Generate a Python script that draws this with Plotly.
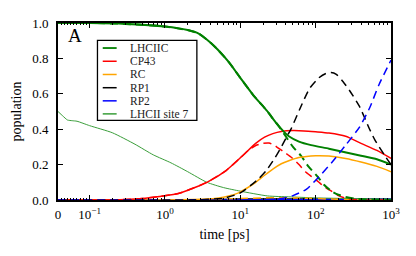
import numpy as np
import plotly.graph_objects as go

# ---------------- data (time in ps, population) ----------------
t_lhc = [0, 0.1, 0.3, 1, 2, 2.8, 4, 5, 7, 10, 15, 20, 23, 27, 32, 38, 44, 60, 87, 150, 245, 400, 650, 1000]
lhc_solid = [1.0, 1.0, 0.995, 0.98, 0.96, 0.94, 0.89, 0.85, 0.78, 0.69, 0.59, 0.53, 0.50, 0.46, 0.42,
             0.385, 0.36, 0.33, 0.31, 0.29, 0.27, 0.25, 0.23, 0.20]
t_lhc_d = [0, 0.1, 0.3, 1, 2, 2.8, 4, 5, 7, 10, 15, 20, 23, 27, 32, 40, 50, 64, 80, 107, 130, 162, 200, 245, 330, 500, 1000]
lhc_dash = [1.0, 1.0, 0.995, 0.98, 0.96, 0.94, 0.89, 0.85, 0.78, 0.69, 0.59, 0.53, 0.50, 0.46, 0.42,
            0.36, 0.30, 0.25, 0.19, 0.13, 0.085, 0.05, 0.03, 0.018, 0.008, 0.003, 0.0]

t_cp = [0, 0.1, 0.3, 0.5, 0.84, 1.55, 2.3, 3.6, 6.4, 10.4, 16, 21, 27, 35, 50, 70, 100, 150, 250, 400, 650, 1000]
cp_solid = [0, 0.0, 0.003, 0.008, 0.02, 0.038, 0.065, 0.10, 0.165, 0.245, 0.32, 0.355, 0.375, 0.387,
            0.392, 0.39, 0.385, 0.378, 0.36, 0.32, 0.28, 0.235]
t_cp_d = [0, 0.1, 0.3, 0.5, 0.84, 1.55, 2.3, 3.6, 6.4, 10.4, 13, 16, 20, 24, 28, 32, 40, 48, 60, 73, 90,
          107, 130, 162, 200, 250, 320, 500, 1000]
cp_dash = [0, 0.0, 0.003, 0.008, 0.02, 0.038, 0.065, 0.10, 0.165, 0.245, 0.283, 0.308, 0.32, 0.322, 0.31,
           0.293, 0.265, 0.24, 0.20, 0.16, 0.13, 0.105, 0.075, 0.05, 0.025, 0.01, 0.003, 0.0, 0.0]

t_rc = [0, 1, 3.6, 5.2, 6.6, 9.5, 12, 16, 21, 27, 35, 44, 60, 100, 150, 250, 400, 650, 1000]
rc_solid = [0, 0.0, 0.005, 0.012, 0.02, 0.04, 0.065, 0.10, 0.14, 0.175, 0.205, 0.222, 0.24, 0.25,
            0.248, 0.235, 0.215, 0.19, 0.16]
t_rc_d = [0, 3, 10, 20, 30, 50, 80, 120, 200, 400, 1000]
rc_dash = [0, 0.002, 0.008, 0.012, 0.013, 0.012, 0.01, 0.007, 0.004, 0.001, 0.0]

t_rp1 = [0, 3, 6, 10, 14, 17.5, 22, 29, 35, 41, 47, 61, 83, 110, 137, 160, 188, 230, 280, 380, 520,
         610, 830, 1000]
rp1_dash = [0, 0.002, 0.01, 0.04, 0.085, 0.12, 0.165, 0.24, 0.30, 0.355, 0.40, 0.51, 0.63, 0.69, 0.715,
            0.72, 0.71, 0.67, 0.62, 0.53, 0.40, 0.34, 0.25, 0.20]
t_rp1_s = [0, 3, 10, 30, 100, 300, 1000]
rp1_solid = [0, 0.002, 0.005, 0.006, 0.005, 0.004, 0.003]

t_rp2 = [0, 20, 37, 50, 75, 110, 170, 250, 380, 520, 690, 1000]
rp2_dash = [0, 0.0, 0.01, 0.025, 0.06, 0.13, 0.22, 0.31, 0.41, 0.52, 0.65, 0.79]
t_rp2_s = [0, 10, 30, 100, 300, 1000]
rp2_solid = [0, 0.0, 0.001, 0.003, 0.004, 0.005]

t_s7 = [0, 0.015, 0.03, 0.045, 0.06, 0.1, 0.2, 0.4, 0.7, 1.2, 2, 3.6, 6, 10, 23, 44, 100, 300, 1000]
s7 = [0.5, 0.475, 0.452, 0.448, 0.445, 0.42, 0.38, 0.315, 0.255, 0.21, 0.16, 0.10, 0.07, 0.05, 0.023,
      0.018, 0.012, 0.008, 0.005]

legend_labels = ["LHCIIC", "CP43", "RC", "RP1", "RP2", "LHCII site 7"]
legend_colors = ["#008000", "#ff0000", "#ffa500", "#000000", "#0000ff", "#3a9e3a"]

x_tick_t = [0, 0.1, 1, 10, 100, 1000]
x_tick_text = ["0", "10<sup>−1</sup>", "10<sup>0</sup>", "10<sup>1</sup>", "10<sup>2</sup>", "10<sup>3</sup>"]

# --------------- symlog-like x transform (linear below 0.1) ---------------
LINTHRESH = 0.1
LINSCALE = 0.42


def sx(t):
    t = np.asarray(t, dtype=float)
    lin = -1 - LINSCALE * (1 - t / LINTHRESH)
    lg = np.log10(np.maximum(t, LINTHRESH))
    return np.where(t < LINTHRESH, lin, lg)


minor_t = [i * 0.01 for i in range(1, 10)]
for d in [0.1, 1, 10, 100]:
    minor_t += [d * k for k in range(2, 10)]

FONT = "Liberation Serif"
fig = go.Figure()


def add(t, y, color, width=1.5, dash="solid"):
    fig.add_trace(go.Scatter(x=sx(t), y=y, mode="lines", showlegend=False,
                             line=dict(color=color, width=width, dash=dash, shape="spline", smoothing=0.6)))


DASH = "8px,5px"
add(t_rp1_s, rp1_solid, legend_colors[3])
add(t_rp2_s, rp2_solid, legend_colors[4])
add(t_s7, s7, legend_colors[5], width=1)
add(t_rc_d, rc_dash, legend_colors[2], dash=DASH)
add(t_cp_d, cp_dash, legend_colors[1], dash=DASH)
add(t_lhc_d, lhc_dash, legend_colors[0], width=2, dash=DASH)
add(t_rc, rc_solid, legend_colors[2])
add(t_cp, cp_solid, legend_colors[1])
add(t_lhc, lhc_solid, legend_colors[0], width=2)
add(t_rp1, rp1_dash, legend_colors[3], dash=DASH)
add(t_rp2, rp2_dash, legend_colors[4], dash=DASH)

# page has an 8px body margin; plot area in page pixels: x 58..393, y 16..202
OFF = 8
W, H = 400, 240
L, R, T, B = 58 - OFF, 393 - OFF, 16 - OFF, 202 - OFF


def px(x):
    return (x - OFF - L) / (R - L)


def py(y):
    return (B - (y - OFF)) / (B - T)


shapes = [dict(type="rect", xref="paper", yref="paper", x0=px(97.7), x1=px(197.7), y0=py(118.3), y1=py(34.3),
               line=dict(color="black", width=1.3), fillcolor="white", layer="above")]
annotations = []
rows = [42.3, 56.2, 70.1, 84.0, 97.8, 111.5]
for lab, col, yy in zip(legend_labels, legend_colors, rows):
    shapes.append(dict(type="line", xref="paper", yref="paper", x0=px(103), x1=px(117), y0=py(yy), y1=py(yy),
                       line=dict(color=col, width=1.8 if lab == "LHCIIC" else 1.5), layer="above"))
    annotations.append(dict(text=lab, xref="paper", yref="paper", x=px(128), y=py(yy), xanchor="left",
                            yanchor="middle", showarrow=False, font=dict(family=FONT, size=11.5, color="#222")))
annotations.append(dict(text="A", xref="paper", yref="paper", x=px(66), y=py(29), xanchor="left",
                        yanchor="middle", showarrow=False, font=dict(family=FONT, size=19, color="black")))

fig.update_layout(
    width=W, height=H,
    margin=dict(l=L, r=W - R, t=T, b=H - B),
    paper_bgcolor="white", plot_bgcolor="white",
    font=dict(family=FONT, size=13, color="black"),
    shapes=shapes, annotations=annotations,
    xaxis=dict(range=[float(sx(0)), 3], tickmode="array", tickvals=list(sx(x_tick_t)), ticktext=x_tick_text,
               ticks="inside", ticklen=5, tickwidth=1, tickcolor="black",
               showline=True, linecolor="black", linewidth=1.6, mirror="ticks",
               showgrid=False, zeroline=False, ticklabelstandoff=2,
               minor=dict(tickmode="array", tickvals=list(sx(minor_t)), ticks="inside", ticklen=2.5,
                          tickwidth=0.8, tickcolor="black", showgrid=False),
               title=dict(text="time [ps]", font=dict(size=14), standoff=8)),
    yaxis=dict(range=[0, 1], tickmode="array", tickvals=[0, 0.2, 0.4, 0.6, 0.8, 1.0], tickformat=".1f",
               ticks="inside", ticklen=5, tickwidth=1, tickcolor="black",
               showline=True, linecolor="black", linewidth=1.6, mirror="ticks",
               showgrid=False, zeroline=False, ticklabelstandoff=5,
               title=dict(text="population", font=dict(size=14), standoff=7)),
)

fig.write_html("out.html")
